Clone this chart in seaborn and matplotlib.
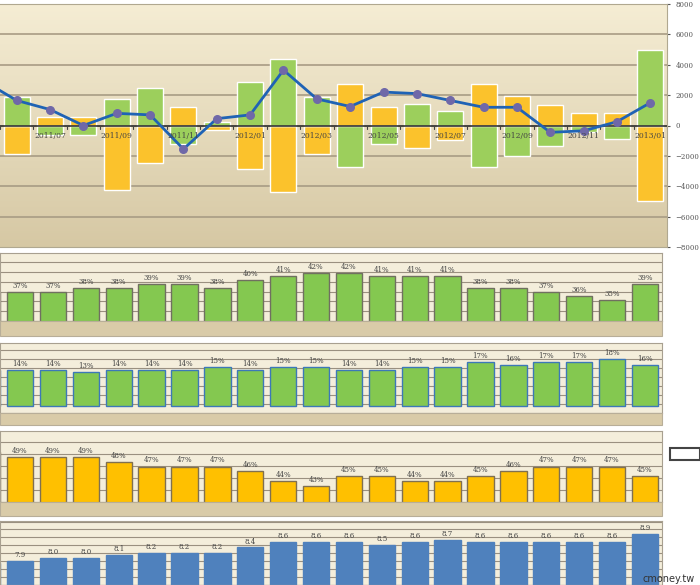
import numpy as np
import pandas as pd
import seaborn as sns
import matplotlib.pyplot as plt
from matplotlib.patches import Rectangle

sns.set_style("white")
plt.rcParams['font.family'] = ['DejaVu Serif']

months = ["2011/05", "2011/06", "2011/07", "2011/08", "2011/09", "2011/10", "2011/11",
          "2011/12", "2012/01", "2012/02", "2012/03", "2012/04", "2012/05", "2012/06",
          "2012/07", "2012/08", "2012/09", "2012/10", "2012/11", "2012/12", "2013/01"]
green_flow = [0, 1900, -600, -600, 1750, 2450, -1200, 250, 2850, 4350, 1850, -2700, -1200,
              1400, 950, -2700, -2000, -1350, -400, -900, 4950]
yellow_flow = [0, -1900, 550, 550, -4250, -2500, 1200, -300, -2850, -4350, -1900, 2700, 1200,
               -1450, -950, 2700, 1950, 1350, 800, 850, -4950]
net_line = [2950, 1650, 1050, 0, 800, 700, -1550, 450, 700, 3650, 1750, 1250, 2200, 2100,
            1650, 1200, 1200, -450, -350, 250, 1500]
pct_a = [37, 37, 37, 38, 38, 39, 39, 38, 40, 41, 42, 42, 41, 41, 41, 38, 38, 37, 36, 35, 39]
pct_b = [14, 14, 14, 13, 14, 14, 14, 15, 14, 15, 15, 14, 14, 15, 15, 17, 16, 17, 17, 18, 16]
pct_c = [50, 49, 49, 49, 48, 47, 47, 47, 46, 44, 43, 45, 45, 44, 44, 45, 46, 47, 47, 47, 45]
val_d = [7.8, 7.9, 8.0, 8.0, 8.1, 8.2, 8.2, 8.2, 8.4, 8.6, 8.6, 8.6, 8.5, 8.6, 8.7, 8.6, 8.6,
         8.6, 8.6, 8.6, 8.9]
tick_months = ["2011/07", "2011/09", "2011/11", "2012/01", "2012/03", "2012/05", "2012/07",
               "2012/09", "2012/11", "2013/01"]

W, H = 700, 585
fig = plt.figure(figsize=(7, 5.85), dpi=100)
fig.patch.set_facecolor("white")


def px_axes(x0, y0, x1, y1):
    return fig.add_axes([x0 / W, 1 - y1 / H, (x1 - x0) / W, (y1 - y0) / H])


def hexrgb(h):
    return np.array([int(h[i:i + 2], 16) / 255 for i in (1, 3, 5)])


df = pd.DataFrame({"month": months, "green": green_flow, "yellow": yellow_flow, "net": net_line})
idx = np.arange(len(months))

# ---- top chart ----
ax = px_axes(0, 4, 667, 247)
g = np.linspace(0, 1, 256).reshape(-1, 1, 1)
ax.imshow(hexrgb("#f5edd4") * (1 - g) + hexrgb("#d6c8a4") * g, aspect="auto",
          extent=[0.5, 20.5, -8000, 8000], zorder=0)
for yv in range(-6000, 8001, 2000):
    ax.axhline(yv, color="#a89c84", lw=1.2, zorder=1)
sns.barplot(data=df, x=idx, y="yellow", native_scale=True, color="#fbc22c", width=0.78,
            saturation=1, ax=ax, zorder=2)
sns.barplot(data=df, x=idx, y="green", native_scale=True, color="#9ccf5c", width=0.78,
            saturation=1, ax=ax, zorder=3)
ax.axhline(0, color="#333333", lw=1.2, zorder=4)
for i in idx:
    ax.plot([i + 0.5, i + 0.5], [0, -250], color="#444444", lw=0.8, zorder=4)
ax.plot(idx, df["net"], color="#1f63b5", lw=2, zorder=5)
ax.scatter(idx, df["net"], s=30, color="#6f68a8", zorder=6)
for m in tick_months:
    ax.text(months.index(m), -400, m, ha="center", va="top", fontsize=5.5, color="#444444", zorder=7)
ax.set_xlim(0.5, 20.5)
ax.set_ylim(-8000, 8000)
ax.set_xticks([])
ax.set_xlabel("")
ax.set_ylabel("")
ax.yaxis.tick_right()
ax.set_yticks(range(-8000, 8001, 2000))
ax.tick_params(axis="y", labelsize=5, colors="#555555", length=2, pad=4)
for s in ax.spines.values():
    s.set_color("#b0a890")
ax.spines["left"].set_visible(False)


# ---- lower panels ----
def panel(y0, y1, base, vals, lo, hi, color, edge, fmt, step):
    a = px_axes(0, y0, 662, base)
    a.set_facecolor("#f4eedb")
    for yv in np.arange(lo, hi, step):
        a.axhline(yv, color="#9a9080", lw=0.8, zorder=1)
    sns.barplot(x=idx, y=vals, native_scale=True, color=color, width=0.8, saturation=1,
                edgecolor=edge, linewidth=1, ax=a, zorder=2)
    for i, v in zip(idx[1:], vals[1:]):
        a.text(i, v + (hi - lo) * 0.03, fmt(v), ha="center", va="bottom", fontsize=5,
               color="#444444", zorder=3)
    a.set_xlim(0.39, 20.52)
    a.set_ylim(lo, hi)
    a.set_xticks([])
    a.set_yticks([])
    a.set_xlabel("")
    a.set_ylabel("")
    for s in a.spines.values():
        s.set_color("#a8a090")
    # floor band
    fig.patches.append(Rectangle((0, 1 - y1 / H), 662 / W, (y1 - base) / H, transform=fig.transFigure,
                                 facecolor="#d9cba8", edgecolor="#b8ae98", lw=0.8, zorder=5))
    return a


panel(253, 336, 321, pct_a, 29.6, 47.0, "#84c850", "#707060", lambda v: f"{v}%", 2.5)
panel(343, 425, 413, pct_b, -2.8, 24.4, "#84c850", "#3c78b8", lambda v: f"{v}%", 3.5)
panel(431, 516, 502, pct_c, 39.6, 54.4, "#ffc000", "#807050", lambda v: f"{v}%", 2.5)
panel(521, 600, 585, val_d, 6.98, 9.4, "#4f81bd", "#4f81bd", lambda v: f"{v:.1f}", 0.3)

fig.patches.append(Rectangle((670 / W, 1 - 460 / H), 30 / W, 12 / H, transform=fig.transFigure,
                             facecolor="white", edgecolor="#444444", lw=1.5))
fig.text(695 / W, 1 - 579 / H, "cmoney.tw", ha="right", va="center", fontsize=7,
         family="DejaVu Sans", color="#333333")

fig.savefig("out.png", dpi=100, facecolor="white")
